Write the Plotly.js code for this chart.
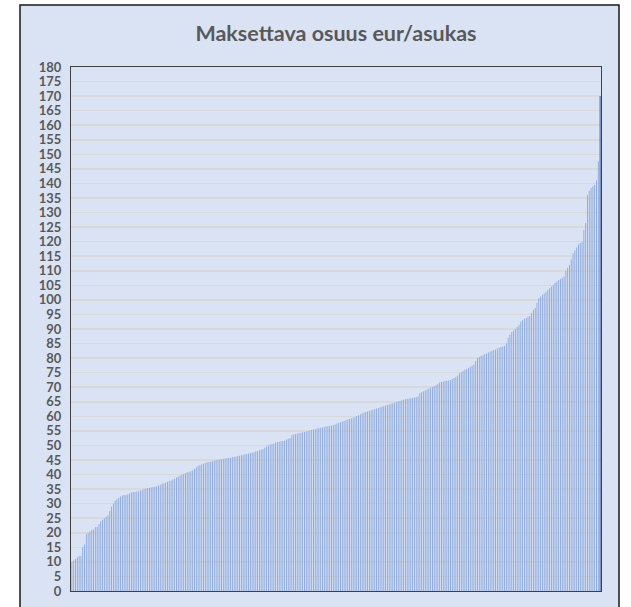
<!DOCTYPE html>
<html>
<head>
<meta charset="utf-8">
<script src="https://cdn.plot.ly/plotly-3.0.1.min.js"></script>
<style>html,body{margin:0;padding:0;background:#fff;}#chart{width:631px;height:607px;}</style>
</head>
<body>
<div id="chart"></div>
<script>
// Maksettava osuus eur/asukas, sorted per municipality
const values = [
10,10.5,11,11.5,12,12,15,16,19.5,20,
20.5,21,21,22,22,23,24,24.5,25,25.5,
26,27.5,29,30,31,31.5,32,32.5,32.8,33,
33,33.2,33.5,33.8,34,34,34.2,34.3,34.5,34.6,
35,35.2,35.4,35.5,35.6,35.7,35.8,36,36.2,36.5,
36.8,37,37.2,37.5,37.8,38,38.3,38.6,39,39.3,
39.6,40,40.2,40.5,40.8,41,41.2,41.5,42,42.5,
43,43.2,43.5,43.7,44,44.2,44.3,44.5,44.6,44.8,
45,45.1,45.2,45.3,45.4,45.5,45.6,45.7,45.8,46,
46.1,46.2,46.4,46.5,46.6,46.8,47,47.1,47.2,47.4,
47.5,47.7,47.9,48.1,48.3,48.5,48.8,49.2,49.6,50,
50.3,50.5,50.7,51,51.2,51.3,51.4,51.5,51.6,52,
52.3,52.6,53.5,53.8,54,54.1,54.2,54.3,54.5,54.6,
54.8,55,55.1,55.3,55.5,55.6,55.8,56,56.1,56.2,
56.3,56.5,56.6,56.7,56.8,57,57.2,57.5,57.8,58,
58.2,58.5,58.7,58.9,59.1,59.3,59.5,59.8,60.1,60.4,
60.7,61,61.3,61.5,61.7,61.9,62.1,62.3,62.5,62.7,
62.9,63.1,63.3,63.5,63.7,63.9,64.1,64.3,64.5,64.7,
64.9,65.1,65.3,65.5,65.7,65.9,66,66.1,66.2,66.3,
66.5,66.6,66.8,68,68.3,68.6,68.9,69.2,69.5,69.8,
70.1,70.4,70.8,71.2,71.6,71.8,72,72.1,72.2,72.3,
72.5,72.8,73.2,73.6,74,74.8,75.2,75.6,76,76.3,
76.6,77,77.4,77.8,79,80,80.4,80.8,81,81.3,
81.6,81.9,82.2,82.5,82.8,83,83.3,83.6,83.8,84,
84.2,85,87,88,89,89.5,90,90.7,91.5,92.5,
93,93.5,93.8,94.2,94.5,95.5,96.5,97.2,99,100.6,
101.2,101.8,102.3,102.8,103.4,104,104.6,105.2,105.8,106.3,
106.8,107.2,107.6,108,110,111,112,114,116,117,
118,119,119.5,120,124,126.4,136,137.5,138.4,139,
139.5,141,147.5,170
];
const yTicks = [0,5,10,15,20,25,30,35,40,45,50,55,60,65,70,75,80,85,90,95,100,105,110,115,120,125,130,135,140,145,150,155,160,165,170,175,180];
const titleText = 'Maksettava osuus eur/asukas';

const colors = values.map((v, i) => i === values.length - 1 ? '#2f52a0' : '#8aa8de');

const trace = {
  type: 'bar',
  y: values,
  marker: {color: colors, line: {width: 0}},
  hoverinfo: 'y'
};

const W = 631, H = 607;
const L = 71, R = 30, T = 67, B = 16;
const pw = W - L - R, ph = H - T - B;
const px = x => (x - L) / pw;
const py = y => (H - B - y) / ph;

const layout = {
  width: W, height: H,
  margin: {l: L, r: R, t: T, b: B, pad: 0},
  paper_bgcolor: '#ffffff',
  plot_bgcolor: '#ffffff',
  bargap: 0.5,
  showlegend: false,
  font: {family: 'Lato, "Open Sans", sans-serif', color: '#595959'},
  title: {
    text: '<b>' + titleText + '</b>',
    font: {size: 21.5, color: '#595959', family: 'Lato, "Open Sans", sans-serif'},
    x: 0.5, xanchor: 'center', xref: 'paper',
    y: 1 - 33 / H, yanchor: 'middle', yref: 'container'
  },
  xaxis: {
    range: [-0.5, values.length - 0.5],
    showticklabels: false, ticks: '', showgrid: false, zeroline: false,
    showline: true, mirror: true, linecolor: '#404040', linewidth: 1
  },
  yaxis: {
    range: [0, 180], tickvals: yTicks, ticktext: yTicks.map(String),
    tickfont: {size: 13, color: '#595959', family: 'Lato, "Open Sans", sans-serif', weight: 'bold'},
    ticks: '', ticklabelstandoff: 6,
    showgrid: true, gridcolor: '#d9d9d9', gridwidth: 1.5,
    zeroline: false,
    showline: true, mirror: true, linecolor: '#404040', linewidth: 1
  },
  shapes: [{
    type: 'rect', xref: 'paper', yref: 'paper', layer: 'below',
    x0: px(20), x1: px(619), y0: py(612), y1: py(5),
    fillcolor: '#dae3f3', line: {color: '#1a1a1a', width: 1.5}
  }]
};

Plotly.newPlot('chart', [trace], layout, {displayModeBar: false, staticPlot: true});
</script>
</body>
</html>
